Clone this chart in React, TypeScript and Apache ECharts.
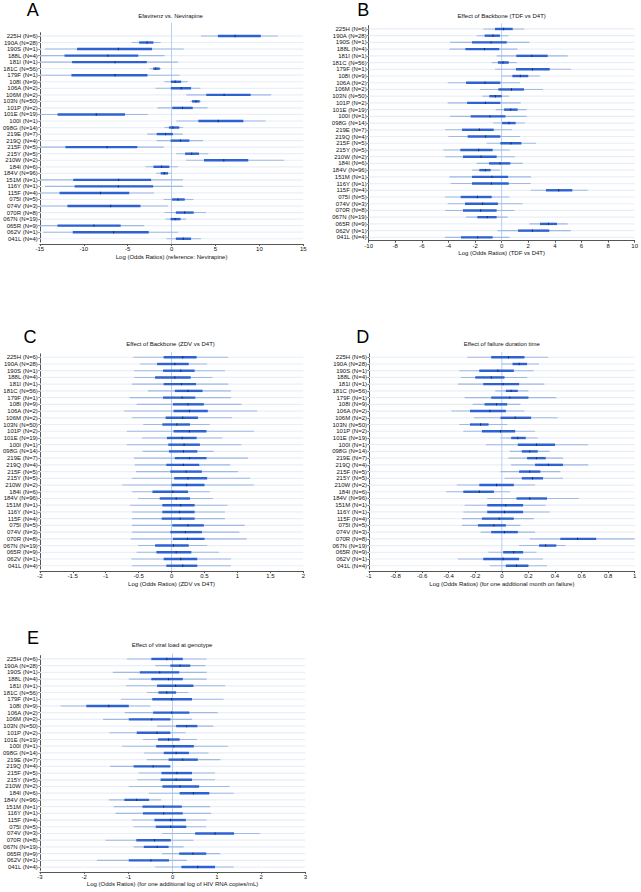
import React, { useEffect, useRef } from "react";
import * as echarts from "echarts";

const rowLabels = [
  "225H (N=6)", "190A (N=28)", "190S (N=1)", "188L (N=4)", "181I (N=1)", "181C (N=56)",
  "179F (N=1)", "108I (N=9)", "106A (N=2)", "106M (N=2)", "103N (N=50)", "101P (N=2)",
  "101E (N=19)", "100I (N=1)", "098G (N=14)", "219E (N=7)", "219Q (N=4)", "215F (N=5)",
  "215Y (N=5)", "210W (N=2)", "184I (N=6)", "184V (N=96)", "151M (N=1)", "116Y (N=1)",
  "115F (N=4)", "075I (N=5)", "074V (N=3)", "070R (N=8)", "067N (N=19)", "065R (N=9)",
  "062V (N=1)", "041L (N=4)",
];

// each row: [lo95, lo50, median, hi50, hi95]
const panelA = [
  [3.35, 5.27, 7.23, 10.16, 12.1], [-4.55, -3.69, -2.79, -2.07, -1.24], [-14.4, -10.76, -6.06, -2.22, 1.39],
  [-15, -12.19, -7.26, -3.8, -0.79], [-15, -11.33, -6.44, -2.82, 0.72], [-2.5, -2.1, -1.8, -1.35, -1.2],
  [-15, -11.4, -6.44, -2.75, 0.9], [-0.8, -0.08, 0.41, 1.09, 1.84], [-1.84, -0.08, 1.09, 2.22, 3.27],
  [1.69, 3.95, 5.98, 9.0, 11.33], [2.15, 2.33, 2.78, 3.2, 3.35], [-1.6, 0.08, 1.24, 2.41, 4.1],
  [-15, -12.98, -8.58, -5.3, -2.67], [0.53, 3.05, 5.31, 8.17, 10.7], [-0.8, -0.3, 0.15, 0.87, 1.28],
  [-2.75, -1.69, -0.68, 0.15, 1.28], [-1.69, -0.11, 1.02, 2.03, 3.58], [-15, -12.08, -7.34, -3.91, -0.9],
  [0.53, 1.54, 2.3, 3.12, 4.18], [1.66, 3.69, 5.95, 8.73, 12.83], [-2.97, -2.07, -1.13, -0.26, 0.72],
  [-1.73, -1.24, -0.83, -0.41, -0.11], [-15, -11.2, -6.02, -2.33, 1.28], [-14.4, -11.03, -6.06, -2.1, 1.28],
  [-15, -12.76, -8.09, -4.82, -2.0], [-0.9, 0.04, 0.72, 1.5, 2.48], [-15, -11.86, -6.93, -3.54, -0.41],
  [-0.79, 0.49, 1.5, 2.52, 3.91], [-0.68, -0.11, 0.41, 1.02, 1.66], [-15, -13.0, -8.84, -5.8, -3.12],
  [-14.6, -11.25, -6.59, -2.6, 0.72], [-0.6, 0.49, 1.32, 2.22, 3.35],
];

const panelB = [
  [-1.38, -0.5, 0.15, 0.83, 1.7], [-1.88, -1.28, -0.65, -0.13, 0.53], [-3.88, -2.23, -0.8, 0.38, 2.08],
  [-3.93, -2.73, -1.3, -0.18, 1.18], [-0.38, 1.1, 2.26, 3.46, 4.96], [-0.75, -0.28, 0.1, 0.53, 1.13],
  [-0.5, 1.08, 2.31, 3.61, 5.21], [0, 0.8, 1.4, 2.0, 2.88], [-4.06, -2.68, -1.25, -0.1, 1.38],
  [-1.63, -0.25, 0.73, 1.68, 3.1], [-1.45, -0.93, -0.48, 0, 0.55], [-4.06, -2.6, -1.23, -0.1, 1.43],
  [-0.45, 0.18, 0.68, 1.2, 1.88], [-3.88, -2.33, -0.88, 0.28, 1.88], [-0.65, 0.03, 0.55, 1.05, 1.75],
  [-4.26, -2.98, -1.68, -0.6, 0.78], [-4.01, -2.56, -1.2, -0.1, 1.38], [-1.13, -0.1, 0.7, 1.48, 2.58],
  [-4.39, -3.11, -1.73, -0.68, 0.63], [-4.26, -2.91, -1.55, -0.38, 1.0], [-1.88, -0.95, -0.13, 0.65, 1.58],
  [-2.23, -1.68, -1.23, -0.83, -0.13], [-3.93, -2.23, -0.73, 0.48, 2.2], [-3.83, -2.23, -0.78, 0.53, 2.18],
  [2.2, 3.33, 4.29, 5.31, 6.47], [-4.26, -3.08, -1.83, -0.75, 0.58], [-4.06, -2.76, -1.43, -0.28, 1.58],
  [-4.26, -2.91, -1.58, -0.38, 0.95], [-2.68, -1.83, -1.08, -0.38, 0.45], [2.08, 2.88, 3.51, 4.16, 4.96],
  [-0.3, 1.23, 2.31, 3.58, 5.19], [-4.26, -3.06, -1.8, -0.68, 0.58],
];

const panelC = [
  [-0.58, -0.12, 0.17, 0.38, 0.86], [-0.48, -0.22, 0.05, 0.26, 0.54], [-0.57, -0.13, 0.14, 0.35, 0.81],
  [-0.57, -0.25, 0.05, 0.29, 0.62], [-0.6, -0.12, 0.15, 0.37, 0.86], [-0.36, 0.05, 0.25, 0.47, 0.9],
  [-0.64, -0.13, 0.16, 0.36, 0.9], [-0.53, 0.02, 0.25, 0.49, 1.06], [-0.72, 0.03, 0.27, 0.55, 1.3],
  [-0.6, -0.09, 0.17, 0.4, 0.92], [-0.43, -0.14, 0.08, 0.28, 0.58], [-0.68, 0.03, 0.27, 0.53, 1.25],
  [-0.45, -0.07, 0.16, 0.38, 0.77], [-0.68, -0.05, 0.19, 0.43, 1.06], [-0.44, -0.04, 0.18, 0.39, 0.64],
  [-0.57, 0.05, 0.27, 0.53, 1.16], [-0.56, -0.08, 0.18, 0.42, 0.89], [-0.54, -0.02, 0.22, 0.46, 1.01],
  [-0.6, 0.04, 0.25, 0.54, 1.19], [-0.75, 0, 0.23, 0.5, 1.25], [-0.6, -0.29, 0.02, 0.25, 0.58],
  [-0.51, -0.18, 0.07, 0.28, 0.63], [-0.63, -0.14, 0.14, 0.35, 0.85], [-0.6, -0.14, 0.12, 0.35, 0.81],
  [-0.6, -0.15, 0.13, 0.35, 0.81], [-0.6, 0.01, 0.25, 0.49, 1.11], [-0.6, -0.02, 0.21, 0.46, 1.03],
  [-0.62, 0.02, 0.24, 0.5, 1.14], [-0.51, -0.25, 0.03, 0.26, 0.54], [-0.53, -0.23, 0.07, 0.3, 0.72],
  [-0.61, -0.12, 0.14, 0.39, 0.9], [-0.6, -0.08, 0.17, 0.39, 0.9],
];

const panelD = [
  [-0.26, -0.08, 0.05, 0.17, 0.35], [0, 0.08, 0.13, 0.19, 0.28], [-0.32, -0.17, -0.03, 0.09, 0.24],
  [-0.31, -0.2, -0.08, 0.02, 0.19], [-0.33, -0.14, 0.01, 0.13, 0.32], [-0.05, 0.03, 0.07, 0.12, 0.2],
  [-0.28, -0.08, 0.06, 0.2, 0.41], [-0.22, -0.13, -0.04, 0.04, 0.14], [-0.38, -0.24, -0.09, 0.03, 0.17],
  [-0.21, -0.01, 0.1, 0.22, 0.42], [-0.32, -0.24, -0.16, -0.1, 0.04], [-0.29, -0.15, -0.01, 0.1, 0.25],
  [-0.01, 0.07, 0.12, 0.18, 0.27], [-0.12, 0.12, 0.26, 0.4, 0.65], [0.06, 0.15, 0.21, 0.27, 0.36],
  [0.05, 0.19, 0.26, 0.33, 0.46], [0.07, 0.25, 0.35, 0.46, 0.65], [-0.01, 0.13, 0.21, 0.29, 0.44],
  [0.02, 0.15, 0.23, 0.31, 0.46], [-0.34, -0.17, -0.04, 0.09, 0.25], [-0.42, -0.29, -0.17, -0.06, 0.06],
  [-0.11, 0.11, 0.21, 0.34, 0.58], [-0.28, -0.11, 0.03, 0.16, 0.33], [-0.29, -0.11, 0.02, 0.16, 0.36],
  [-0.3, -0.15, -0.02, 0.09, 0.24], [-0.3, -0.18, -0.06, 0.03, 0.14], [-0.16, -0.08, 0.02, 0.12, 0.25],
  [0.21, 0.44, 0.57, 0.71, 1.0], [0.13, 0.28, 0.33, 0.41, 0.48], [-0.1, 0.01, 0.09, 0.16, 0.26],
  [-0.33, -0.14, 0.01, 0.13, 0.31], [-0.09, 0.03, 0.11, 0.2, 0.34],
];

const panelE = [
  [-1.03, -0.48, -0.13, 0.23, 0.77], [-0.39, -0.05, 0.17, 0.4, 0.74], [-1.35, -0.74, -0.29, 0.15, 0.77],
  [-0.99, -0.48, -0.09, 0.23, 0.77], [-1.05, -0.35, 0.07, 0.47, 1.19], [-0.58, -0.32, -0.13, 0.08, 0.36],
  [-1.17, -0.46, -0.02, 0.44, 1.15], [-2.53, -1.95, -1.44, -0.99, -0.5], [-1.08, -0.44, -0.02, 0.38, 1.02],
  [-1.57, -0.99, -0.47, -0.05, 0.44], [-0.35, 0.08, 0.32, 0.56, 0.92], [-1.43, -0.81, -0.35, -0.05, 0.29],
  [-0.67, -0.33, -0.09, 0.16, 0.55], [-1.14, -0.37, 0.03, 0.48, 1.25], [-0.65, -0.2, 0.08, 0.37, 0.81],
  [-0.58, -0.09, 0.23, 0.57, 1.08], [-1.41, -0.88, -0.44, -0.05, -0.13], [-0.77, -0.25, 0.1, 0.44, 0.96],
  [-0.8, -0.27, 0.08, 0.44, 0.96], [-0.99, -0.23, 0.17, 0.6, 1.29], [-0.54, 0.16, 0.47, 0.83, 1.38],
  [-1.44, -1.09, -0.81, -0.53, -0.26], [-1.33, -0.68, -0.2, 0.21, 0.85], [-1.29, -0.67, -0.2, 0.23, 0.87],
  [-0.92, -0.41, -0.05, 0.3, 0.77], [-0.88, -0.38, -0.04, 0.31, 0.76], [-0.24, 0.51, 0.96, 1.39, 1.98],
  [-1.52, -0.82, -0.41, -0.04, 0.47], [-0.88, -0.65, -0.35, -0.09, 0.25], [-0.24, 0.15, 0.46, 0.76, 1.08],
  [-1.71, -0.99, -0.49, -0.08, 0.32], [-0.39, 0.2, 0.57, 0.96, 1.38],
];

const panelTitles = [
  "Efavirenz vs. Nevirapine",
  "Effect of Backbone (TDF vs D4T)",
  "Effect of Backbone (ZDV vs D4T)",
  "Effect of failure duration time",
  "Effect of viral load at genotype",
];
const axisNames = [
  "Log (Odds Ratios) (reference: Nevirapine)",
  "Log (Odds Ratios) (TDF vs D4T)",
  "Log (Odds Ratios) (ZDV vs D4T)",
  "Log (Odds Ratios) (for one additional month on failure)",
  "Log (Odds Ratios) (for one additional log of HIV RNA copies/mL)",
];
const panelLetters = ["A", "B", "C", "D", "E"];
const xRanges = [[-15, 15, 5], [-10, 10, 2], [-2, 2, 0.5], [-1, 1, 0.2], [-3, 3, 1]];

const layouts = [
  { left: 37.7, top: 32.7, width: 265.6, height: 209.3, offset: 2, ext: 10, letter: [32.7, 10], title: [170.5, 16] },
  { left: 368.7, top: 25.6, width: 266, height: 215.1, offset: 0, ext: 2, letter: [363.3, 10], title: [501.7, 15.7] },
  { left: 37.7, top: 353.9, width: 265.6, height: 215.2, offset: 2, ext: 2, letter: [30, 336.5], title: [170.5, 344.3] },
  { left: 369, top: 353.9, width: 265.7, height: 215.2, offset: 2, ext: 2, letter: [362.7, 336.5], title: [501.8, 344.3] },
  { left: 39.3, top: 655.6, width: 266, height: 214.8, offset: 1.5, ext: 2, letter: [33, 638], title: [172, 645] },
];

const FONT = "'Liberation Sans', Arial, sans-serif";

export default function App() {
  const ref = useRef<HTMLDivElement>(null);
  useEffect(() => {
    document.body.style.margin = "0";
    if (!ref.current) return;
    const chart = echarts.init(ref.current, undefined, { renderer: "svg" });
    const panels = [panelA, panelB, panelC, panelD, panelE];

    const grid: any[] = [];
    const xAxis: any[] = [];
    const yAxis: any[] = [];
    const series: any[] = [];
    const graphic: any[] = [];

    panels.forEach((pdata, i) => {
      const L = layouts[i];
      const [mn, mx, iv] = xRanges[i];
      grid.push({ left: L.left, top: L.top, width: L.width, height: L.height, containLabel: false });
      xAxis.push({
        type: "value", gridIndex: i, min: mn, max: mx, interval: iv, offset: L.offset,
        splitLine: { show: false },
        axisLine: { show: true, onZero: false, lineStyle: { color: "#555", width: 1 } },
        axisTick: { show: true, length: 2, lineStyle: { color: "#555" } },
        axisLabel: { fontSize: 6, color: "#111", margin: 2, fontFamily: FONT },
        name: axisNames[i], nameLocation: "middle", nameGap: 9.5,
        nameTextStyle: { fontSize: 6, color: "#111", fontFamily: FONT },
      });
      yAxis.push({
        type: "category", gridIndex: i, data: rowLabels, inverse: true,
        axisLine: { show: true, onZero: false, lineStyle: { color: "#555", width: 1 } },
        axisTick: { show: true, length: 1.5, alignWithLabel: true, lineStyle: { color: "#777" } },
        axisLabel: { fontSize: 6, color: "#111", margin: 2, fontFamily: FONT, interval: 0 },
        splitLine: { show: false },
      });

      const bgData = rowLabels.map((_, r) => [r]);
      series.push({
        type: "custom", xAxisIndex: i, yAxisIndex: i, silent: true,
        data: bgData, encode: { y: 0 },
        renderItem: (params: any, api: any) => {
          const cs = params.coordSys;
          const y = api.coord([mn, api.value(0)])[1];
          return {
            type: "rect",
            shape: { x: cs.x, y: y - 0.6, width: cs.width, height: 1.2 },
            style: { fill: "#e8eff9" },
          };
        },
      });
      series.push({
        type: "custom", xAxisIndex: i, yAxisIndex: i, silent: true,
        data: [[0, 0]], encode: { x: 0, y: 1 },
        renderItem: (params: any, api: any) => {
          const cs = params.coordSys;
          const x = api.coord([0, 0])[0];
          return {
            type: "rect",
            shape: { x: x - 0.4, y: cs.y - L.ext, width: 0.8, height: cs.height + L.ext + L.offset },
            style: { fill: "#a8c4ec" },
          };
        },
      });
      const mainData = pdata.map((d, r) => [r, ...d]);
      series.push({
        type: "custom", xAxisIndex: i, yAxisIndex: i, silent: true,
        data: mainData, encode: { y: 0, x: [1, 2, 3, 4, 5] },
        renderItem: (params: any, api: any) => {
          const r = api.value(0);
          const clamp = (v: number) => Math.max(mn, Math.min(mx, v));
          const px = (v: number) => api.coord([clamp(v), r])[0];
          const y = api.coord([0, r])[1];
          const lo95 = px(api.value(1)), lo50 = px(api.value(2)), med = px(api.value(3));
          const hi50 = px(api.value(4)), hi95 = px(api.value(5));
          return {
            type: "group",
            children: [
              { type: "rect", shape: { x: lo95, y: y - 0.55, width: hi95 - lo95, height: 1.1 }, style: { fill: "#9fbae4" } },
              { type: "rect", shape: { x: lo50, y: y - 1.2, width: hi50 - lo50, height: 2.4 }, style: { fill: "#2d62d2" } },
              { type: "rect", shape: { x: med - 0.45, y: y - 1.2, width: 0.9, height: 2.4 }, style: { fill: "#102a5c" } },
            ],
          };
        },
      });

      graphic.push({
        type: "text", x: L.letter[0], y: L.letter[1],
        style: { text: panelLetters[i], fontSize: 18, fill: "#000", fontFamily: FONT, align: "center", verticalAlign: "middle" },
      });
      graphic.push({
        type: "text", x: L.title[0], y: L.title[1],
        style: { text: panelTitles[i], fontSize: 6, fill: "#111", fontFamily: FONT, align: "center", verticalAlign: "middle" },
      });
    });

    chart.setOption({
      animation: false,
      backgroundColor: "#ffffff",
      grid, xAxis, yAxis, series, graphic,
    });
    return () => chart.dispose();
  }, []);
  return <div ref={ref} style={{ width: 641, height: 892 }} />;
}
